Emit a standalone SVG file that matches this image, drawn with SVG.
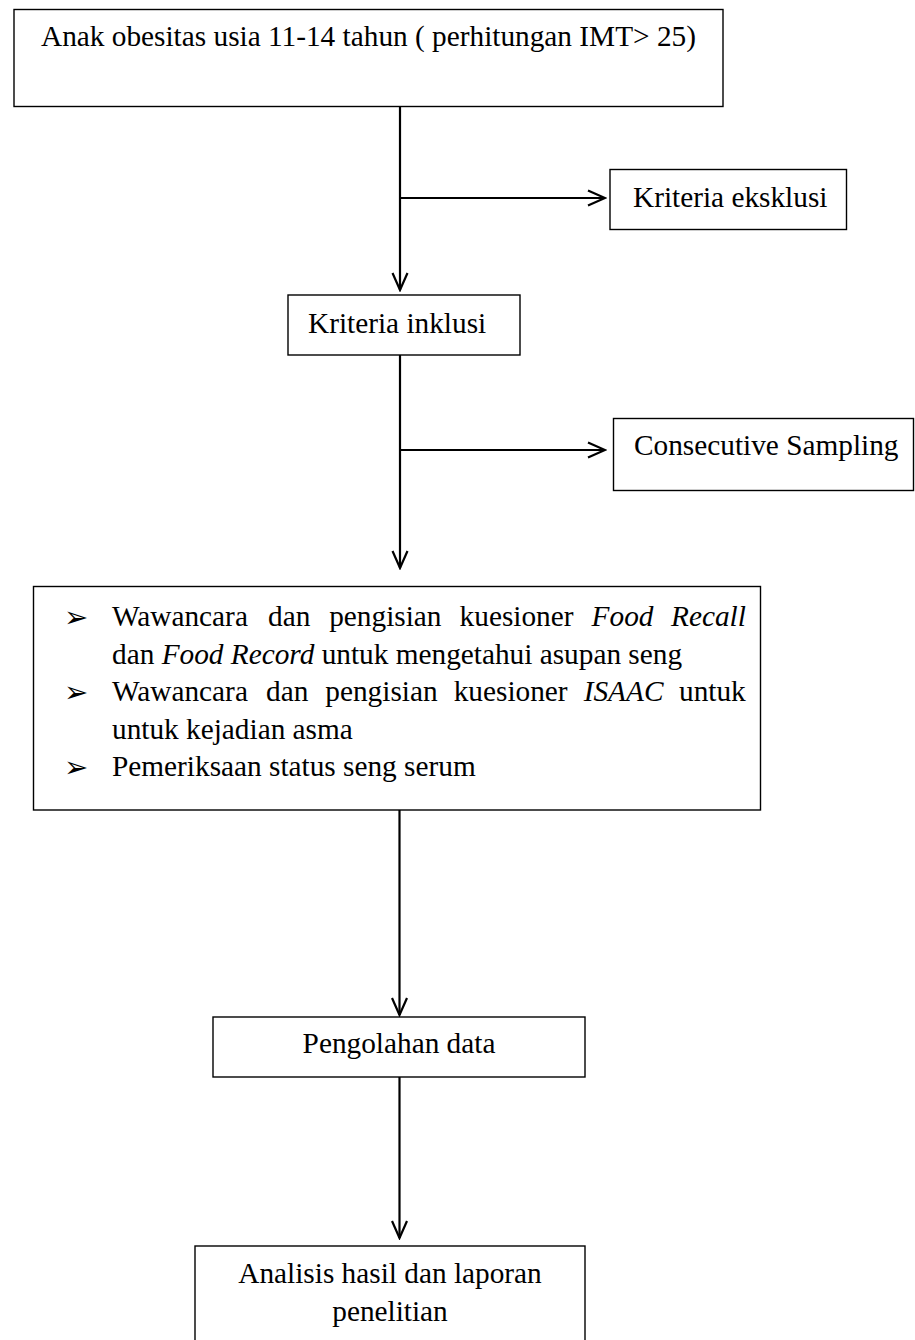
<svg xmlns="http://www.w3.org/2000/svg" width="915" height="1340" viewBox="0 0 915 1340">
<style>
.box{fill:#fff;stroke:#000;stroke-width:1.4}
.t{font-family:"Liberation Serif","Times New Roman",serif;font-size:29.3px;fill:#000}
.i{font-style:italic}
.b{font-family:"DejaVu Sans",sans-serif;font-size:29px;fill:#000}
.c{fill:none;stroke:#000;stroke-width:2.2}
</style>
<defs>
<marker id="arr" viewBox="0 0 20 18" refX="18" refY="9" markerWidth="20" markerHeight="18" markerUnits="userSpaceOnUse" orient="auto">
<path d="M1,1.5 L18,9 L1,16.5" fill="none" stroke="#000" stroke-width="2.2"/>
</marker>
</defs>
<rect width="915" height="1340" fill="#fff"/>
<g id="connectors">
<line class="c" x1="400" y1="107" x2="400" y2="290" marker-end="url(#arr)"/>
<line class="c" x1="400" y1="198" x2="605" y2="198" marker-end="url(#arr)"/>
<line class="c" x1="400" y1="355" x2="400" y2="568" marker-end="url(#arr)"/>
<line class="c" x1="400" y1="450" x2="605" y2="450" marker-end="url(#arr)"/>
<line class="c" x1="399.5" y1="810" x2="399.5" y2="1015" marker-end="url(#arr)"/>
<line class="c" x1="399.5" y1="1077" x2="399.5" y2="1238" marker-end="url(#arr)"/>
</g>
<g id="node-anak">
<rect class="box" x="14" y="9.5" width="709" height="97"/>
<text class="t" x="41" y="46">Anak obesitas usia 11-14 tahun ( perhitungan IMT&gt; 25)</text>
</g>
<g id="node-eksklusi">
<rect class="box" x="610" y="169.5" width="236.5" height="60"/>
<text class="t" x="633" y="207">Kriteria eksklusi</text>
</g>
<g id="node-inklusi">
<rect class="box" x="288" y="295" width="232" height="60"/>
<text class="t" x="308" y="333">Kriteria inklusi</text>
</g>
<g id="node-consecutive">
<rect class="box" x="613.5" y="418.5" width="300" height="72"/>
<text class="t" x="634" y="455">Consecutive Sampling</text>
</g>
<g id="node-wawancara">
<rect class="box" x="33.5" y="586.5" width="727" height="223.5"/>
<text class="b" x="64" y="627">➢</text>
<text class="b" x="64" y="702">➢</text>
<text class="b" x="64" y="777">➢</text>
<text class="t" y="626"><tspan x="112">Wawancara</tspan><tspan x="268.1">dan</tspan><tspan x="329.2">pengisian</tspan><tspan x="459.6">kuesioner</tspan><tspan x="591.6" class="i">Food</tspan><tspan x="671" class="i">Recall</tspan></text>
<text class="t" x="112" y="663.5">dan <tspan class="i">Food Record</tspan> untuk mengetahui asupan seng</text>
<text class="t" y="701"><tspan x="112">Wawancara</tspan><tspan x="266.1">dan</tspan><tspan x="325.3">pengisian</tspan><tspan x="453.7">kuesioner</tspan><tspan x="583.7" class="i">ISAAC</tspan><tspan x="679">untuk</tspan></text>
<text class="t" x="112" y="738.5">untuk kejadian asma</text>
<text class="t" x="112" y="776">Pemeriksaan status seng serum</text>
</g>
<g id="node-pengolahan">
<rect class="box" x="213" y="1017" width="372" height="60"/>
<text class="t" x="399" y="1053" text-anchor="middle">Pengolahan data</text>
</g>
<g id="node-analisis">
<rect class="box" x="195" y="1246" width="390" height="110"/>
<text class="t" x="390" y="1283" text-anchor="middle">Analisis hasil dan laporan</text>
<text class="t" x="390" y="1321" text-anchor="middle">penelitian</text>
</g>
</svg>
